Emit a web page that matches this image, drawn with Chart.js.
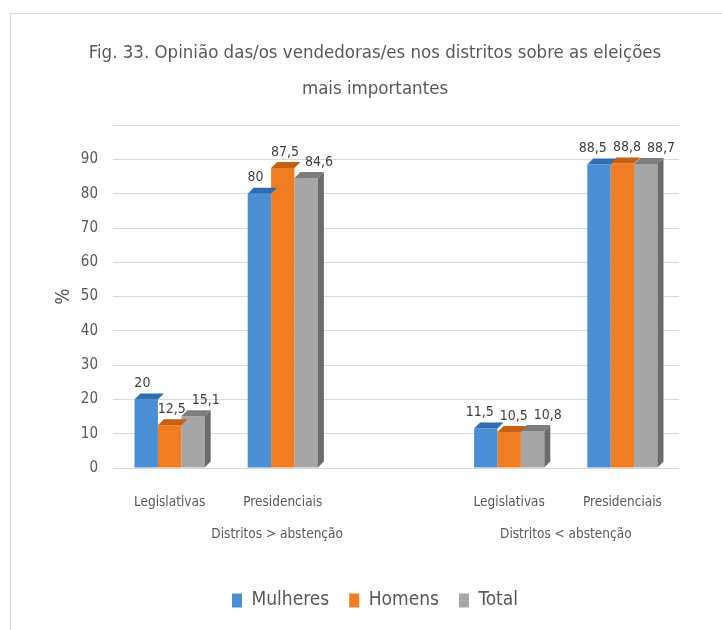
<!DOCTYPE html>
<html>
<head>
<meta charset="utf-8">
<script src="https://cdn.jsdelivr.net/npm/chart.js@4.4.1/dist/chart.umd.min.js"></script>
<style>
  html, body { margin: 0; padding: 0; background: #ffffff; overflow: hidden; width: 722px; height: 630px; }
  #frame { position: absolute; left: 10px; top: 13px; width: 740px; height: 640px;
           border-left: 1px solid #d6d6d6; border-top: 1px solid #d6d6d6; background: #fff; }
  #wrap { position: absolute; left: 0; top: 0; width: 722px; height: 617px; }
</style>
</head>
<body>
<div id="frame"><div id="wrap"><canvas id="c" width="722" height="617"></canvas></div></div>
<script>
// ---- data ----
const titleLines = ['Fig. 33. Opinião das/os vendedoras/es nos distritos sobre as eleições', 'mais importantes'];
const categories = ['Legislativas', 'Presidenciais', '', 'Legislativas', 'Presidenciais'];
const groupLabels = ['Distritos > abstenção', 'Distritos < abstenção'];
const groupAnchors = [0.95, 3.5];   // position along the category axis
const mulheres = [20, 80, null, 11.5, 88.5];
const homens   = [12.5, 87.5, null, 10.5, 88.8];
const total    = [15.1, 84.6, null, 10.8, 88.7];
const seriesNames = ['Mulheres', 'Homens', 'Total'];
const yTicks = [0, 10, 20, 30, 40, 50, 60, 70, 80, 90];

const FONT = '"Liberation Sans Narrow", "DejaVu Sans Condensed", "Liberation Sans", sans-serif';
const faceColors = ['#4a8ed6', '#f07d22', '#a6a6a6'];
const topColors  = ['#2f6db2', '#c8600f', '#7d7d7d'];
const sideColors = ['#2d5f96', '#b4560e', '#6b6b6b'];
const labelShift = [-1, 5, 10];
const DEPTH = 6;

const bar3d = {
  id: 'bar3d',
  afterDatasetsDraw(chart) {
    const ctx = chart.ctx;
    ctx.save();
    const n = chart.data.datasets.length;
    chart.data.datasets.forEach((ds, di) => {
      const meta = chart.getDatasetMeta(di);
      meta.data.forEach((el, i) => {
        if (ds.data[i] == null) return;
        const p = el.getProps(['x', 'y', 'base', 'width'], true);
        const l = p.x - p.width / 2, r = p.x + p.width / 2;
        ctx.fillStyle = topColors[di];
        ctx.beginPath();
        ctx.moveTo(l, p.y);
        ctx.lineTo(l + DEPTH, p.y - DEPTH);
        ctx.lineTo(r + DEPTH, p.y - DEPTH);
        ctx.lineTo(r, p.y);
        ctx.closePath();
        ctx.fill();
        if (di === n - 1) {
          ctx.fillStyle = sideColors[di];
          ctx.beginPath();
          ctx.moveTo(r, p.y);
          ctx.lineTo(r + DEPTH, p.y - DEPTH);
          ctx.lineTo(r + DEPTH, p.base - DEPTH);
          ctx.lineTo(r, p.base);
          ctx.closePath();
          ctx.fill();
        }
      });
    });
    // value labels, spread apart when they would collide
    ctx.fillStyle = '#404040';
    ctx.font = '14px ' + FONT;
    ctx.textAlign = 'center';
    ctx.textBaseline = 'bottom';
    const nCat = chart.data.labels.length;
    for (let i = 0; i < nCat; i++) {
      const items = [];
      chart.data.datasets.forEach((ds, di) => {
        const v = ds.data[i];
        if (v == null) return;
        const p = chart.getDatasetMeta(di).data[i].getProps(['x', 'y'], true);
        const txt = String(v).replace('.', ',');
        items.push({ txt, x: p.x + labelShift[di], y: p.y - DEPTH - 3, w: ctx.measureText(txt).width });
      });
      for (let k = 1; k < items.length; k++) {
        const a = items[k - 1], b = items[k];
        const need = (a.w + b.w) / 2 + 6;
        if (Math.abs(a.y - b.y) < 16 && b.x - a.x < need) {
          const push = (need - (b.x - a.x));
          for (let j = k; j < items.length; j++) items[j].x += push;
          for (let j = 0; j < items.length; j++) items[j].x -= push / 2;
        }
      }
      items.forEach(it => ctx.fillText(it.txt, it.x, it.y));
    }
    const xs = chart.scales.x;
    ctx.fillStyle = '#595959';
    ctx.font = '13.5px ' + FONT;
    ctx.textBaseline = 'middle';
    groupLabels.forEach((g, k) => {
      ctx.fillText(g, xs.getPixelForValue(groupAnchors[k]), chart.chartArea.bottom + 66);
    });
    ctx.restore();
  }
};

new Chart(document.getElementById('c'), {
  type: 'bar',
  data: {
    labels: categories,
    datasets: [
      { label: seriesNames[0], data: mulheres, backgroundColor: faceColors[0] },
      { label: seriesNames[1], data: homens,   backgroundColor: faceColors[1] },
      { label: seriesNames[2], data: total,    backgroundColor: faceColors[2] }
    ]
  },
  options: {
    responsive: false,
    animation: false,
    layout: { padding: { left: 60, right: 54, top: 0, bottom: 11 } },
    datasets: { bar: { categoryPercentage: 0.62, barPercentage: 1.0, borderWidth: 0 } },
    plugins: {
      title: {
        display: true,
        text: titleLines,
        color: '#595959',
        font: { family: FONT, size: 18.5, weight: 'normal', lineHeight: 1.95 },
        padding: { top: 21, bottom: 18 }
      },
      legend: {
        position: 'bottom',
        labels: {
          color: '#595959',
          font: { family: FONT, size: 19 },
          boxWidth: 10,
          boxHeight: 14,
          padding: 20
        }
      },
      tooltip: { enabled: false }
    },
    scales: {
      x: {
        grid: { display: false, drawTicks: false },
        border: { display: false },
        ticks: { color: '#595959', font: { family: FONT, size: 13.5 }, padding: 26, maxRotation: 0, autoSkip: false },
        afterFit(scale) { scale.height = 103; }
      },
      y: {
        min: 0, max: 100,
        afterBuildTicks(scale) { scale.ticks = yTicks.concat([100]).map(v => ({ value: v })); },
        grid: { color: '#d9d9d9', drawTicks: false },
        border: { display: false },
        ticks: {
          color: '#595959', font: { family: FONT, size: 15 }, padding: 15,
          callback: (v) => (yTicks.includes(v) ? String(v) : '')
        },
        title: { display: true, text: '%', color: '#595959', font: { family: FONT, size: 19 }, padding: { top: -18, bottom: 0 } },
        afterFit(scale) { scale.width = 42; }
      }
    }
  },
  plugins: [bar3d]
});
</script>
</body>
</html>
